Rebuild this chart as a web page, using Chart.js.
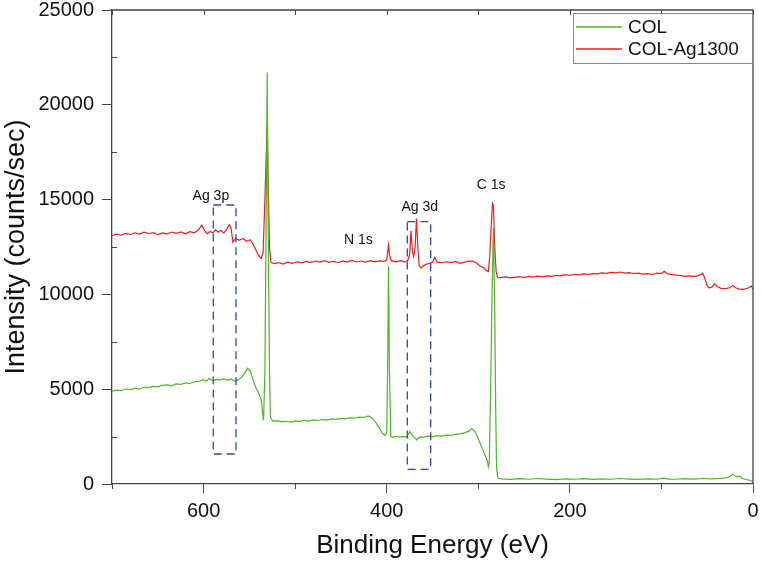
<!DOCTYPE html>
<html>
<head>
<meta charset="utf-8">
<script src="https://cdn.jsdelivr.net/npm/chart.js@4"></script>
<style>
  html, body { margin: 0; padding: 0; background: #fff; }
  #wrap { width: 762px; height: 561px; }
</style>
</head>
<body>
<div id="wrap"><canvas id="grafico" width="762" height="561"></canvas></div>
<script>
// Series names
const seriesNames = ['COL', 'COL-Ag1300'];

// COL spectrum (binding energy eV, counts/sec)
const colEnergy = [700,695,690,685,680,675,670,665,660,655,650,645,640,635,630,625,620,615,610,605,600,597,594,590,586,582,578,574,570,566,562,558,555,552,549,546,543,540,537,535.5,534.5,533,531.5,530.5,529.5,528,527,524,520,515,510,505,500,495,490,485,480,475,470,465,460,455,450,445,440,435,430,425,420,416,412,408,405,402,400,399,398,397,395.5,393,390,386,382,378,375,372,369,367,364,360,355,350,345,340,335,330,325,320,315,310,307,304,301,298,295,292,290,289,288,286.5,285,283.5,282,281,280,278.5,275,265,255,245,235,225,215,205,195,185,175,165,155,145,135,125,115,105,98,92,85,75,65,55,45,35,28,25,22,20,17,15,12,8,4,0];
const colCounts = [4900,4950,4920,5010,4980,5060,5000,5100,5080,5150,5120,5200,5230,5180,5280,5250,5330,5300,5380,5420,5500,5420,5560,5450,5520,5480,5560,5470,5540,5430,5500,5650,5850,6100,5950,5500,5100,4800,4450,3700,3350,6000,15000,21700,14000,6000,3500,3300,3340,3280,3310,3260,3330,3300,3360,3320,3380,3350,3400,3370,3430,3410,3460,3440,3500,3470,3530,3510,3590,3480,3250,2950,2700,2560,2700,6000,11500,6000,2500,2450,2520,2470,2510,2480,2760,2560,2420,2320,2480,2460,2520,2490,2550,2530,2580,2560,2620,2640,2700,2800,2920,2800,2500,2150,1800,1450,1200,900,1100,5000,10000,13500,9000,4000,800,300,270,240,280,250,290,260,230,270,250,280,240,270,250,290,260,240,270,250,310,260,250,280,260,290,270,300,340,420,520,430,370,420,300,240,200,120];

// COL-Ag1300 spectrum
const agEnergy = [700,695,690,685,680,675,670,665,660,655,650,645,640,635,630,625,620,615,610,606,602,599,596,593,590,587,584,581,578,575,572,570,568,565,561,557,553,549,546,543,540,537,535,533,531.5,530.5,529.5,528,526.5,523,518,513,508,503,498,493,488,483,478,473,468,463,458,453,448,443,438,433,428,423,418,413,408,403,400,399,398,397,395,390,385,380,377,375,373.5,372,370.5,369,367.5,366,364.5,362,358,354,350,347.5,345,340,335,330,325,320,315,310,306,302,298,294,291,289,287.5,286,284.5,283.5,282,280.5,279,275,270,265,260,255,250,245,240,235,230,225,220,215,210,205,200,195,190,185,180,175,170,165,160,155,150,145,140,135,130,125,120,115,110,105,100,97,94,90,85,80,75,70,65,60,57,55,53,50,48,45,42,39,35,31,27,24,22,19,15,11,7,4,2,0];
const agCounts = [13100,13180,13120,13220,13160,13250,13180,13280,13200,13260,13150,13240,13180,13290,13220,13300,13200,13310,13250,13380,13650,13380,13200,13320,13250,13420,13280,13380,13230,13420,13680,13500,12750,12950,12850,12950,12800,12880,12650,12350,12050,11900,12200,15000,17500,19100,16000,12500,11700,11620,11680,11600,11700,11640,11720,11660,11740,11680,11760,11700,11780,11690,11740,11670,11770,11700,11790,11710,11760,11700,11780,11720,11770,11740,11800,12200,12600,12100,11780,11720,11780,11700,11800,12100,13350,12300,12000,12500,14000,12500,11500,11400,11580,11620,11700,11950,11700,11660,11720,11680,11740,11640,11700,11750,11760,11650,11500,11400,11250,11200,12000,13500,14800,14700,12500,11200,10900,10880,10920,10870,10900,10940,10890,10950,10910,10960,10920,10980,10950,11010,10980,11040,11010,11060,11030,11080,11060,11100,11080,11130,11110,11160,11140,11180,11120,11150,11090,11120,11070,11100,11050,11120,11100,11220,11100,11060,11020,11000,10950,10980,10940,10990,11050,11120,10900,10450,10350,10380,10560,10420,10320,10300,10330,10420,10470,10350,10280,10260,10300,10380,10440,10270];

// Peak labels and highlight boxes (data coordinates)
const peakLabels = ['Ag 3p', 'N 1s', 'Ag 3d', 'C 1s'];
const peakLabelEnergy = [592, 431, 364, 286];
const peakLabelCounts = [15190, 12870, 14610, 15770];
const boxEnergy = [[589.4, 564.6], [377.5, 352]];
const boxCounts = [[1582, 14715], [775, 13834]];

const xMajorTicks = [0, 200, 400, 600];
const xMinorTicks = [100, 300, 500, 700];
const yMajorTicks = [0, 5000, 10000, 15000, 20000, 25000];
const yMinorTicks = [2500, 7500, 12500, 17500, 22500];

const colores = ['#4fb52a', '#ee1d1d'];
const ejeColor = '#444';
const fuente = '"Liberation Sans", Arial, sans-serif';

function puntos(xs, ys) {
    return xs.map((x, i) => ({ x: x, y: ys[i] }));
}

// Plugin para marco, ticks menores, cajas, etiquetas y leyenda
const extras = {
    id: 'extras',
    afterDatasetsDraw(chart) {
        const ctx = chart.ctx;
        const a = chart.chartArea;
        const xs = chart.scales.x;
        const ys = chart.scales.y;
        ctx.save();

        // marco superior y derecho
        ctx.strokeStyle = ejeColor;
        ctx.lineWidth = 1.3;
        ctx.beginPath();
        ctx.moveTo(a.left, a.top);
        ctx.lineTo(a.right, a.top);
        ctx.lineTo(a.right, a.bottom);
        ctx.stroke();

        // ticks menores
        ctx.lineWidth = 1;
        ctx.beginPath();
        xMinorTicks.forEach(v => {
            const px = Math.round(xs.getPixelForValue(v)) + 0.5;
            ctx.moveTo(px, a.bottom); ctx.lineTo(px, a.bottom + 5);
        });
        xMajorTicks.concat(xMinorTicks).forEach(v => {
            const px = Math.round(xs.getPixelForValue(v)) + 0.5;
            ctx.moveTo(px, a.top); ctx.lineTo(px, a.top + 5);
        });
        yMinorTicks.forEach(v => {
            const py = Math.round(ys.getPixelForValue(v)) + 0.5;
            ctx.moveTo(a.left, py); ctx.lineTo(a.left + 5, py);
        });
        ctx.stroke();

        // cajas punteadas
        ctx.strokeStyle = '#2c47b5';
        ctx.lineWidth = 1.3;
        ctx.setLineDash([8, 5]);
        boxEnergy.forEach((be, i) => {
            const x1 = xs.getPixelForValue(be[0]);
            const x2 = xs.getPixelForValue(be[1]);
            const y1 = ys.getPixelForValue(boxCounts[i][1]);
            const y2 = ys.getPixelForValue(boxCounts[i][0]);
            ctx.beginPath();
            ctx.moveTo(x1, y1);
            ctx.lineTo(x2, y1);
            ctx.lineTo(x2, y2);
            ctx.lineTo(x1, y2);
            ctx.closePath();
            ctx.stroke();
        });
        ctx.setLineDash([]);

        // etiquetas de picos
        ctx.fillStyle = '#111';
        ctx.font = '14px ' + fuente;
        ctx.textAlign = 'center';
        ctx.textBaseline = 'middle';
        peakLabels.forEach((t, i) => {
            ctx.fillText(t, xs.getPixelForValue(peakLabelEnergy[i]), ys.getPixelForValue(peakLabelCounts[i]));
        });

        // leyenda
        const lx = 573, ly = 13, lw = 179, lh = 50;
        ctx.fillStyle = '#fff';
        ctx.fillRect(lx, ly, lw, lh);
        ctx.strokeStyle = '#888';
        ctx.lineWidth = 1;
        ctx.strokeRect(lx + 0.5, ly + 0.5, lw, lh);
        ctx.font = '19px ' + fuente;
        ctx.textAlign = 'left';
        seriesNames.forEach((n, i) => {
            const yy = ly + 14 + i * 22;
            ctx.strokeStyle = colores[i];
            ctx.lineWidth = 1.3;
            ctx.beginPath();
            ctx.moveTo(lx + 3, yy);
            ctx.lineTo(lx + 49, yy);
            ctx.stroke();
            ctx.fillStyle = '#111';
            ctx.fillText(n, lx + 55, yy + 1);
        });
        ctx.restore();
    }
};

new Chart(document.getElementById('grafico').getContext('2d'), {
    type: 'line',
    data: {
        datasets: [
            { label: seriesNames[0], data: puntos(colEnergy, colCounts), borderColor: colores[0], borderWidth: 1.2, pointRadius: 0, tension: 0 },
            { label: seriesNames[1], data: puntos(agEnergy, agCounts), borderColor: colores[1], borderWidth: 1.2, pointRadius: 0, tension: 0 }
        ]
    },
    options: {
        responsive: false,
        animation: false,
        layout: { padding: { left: 0, right: 9, top: 10, bottom: 0 } },
        plugins: { legend: { display: false }, tooltip: { enabled: false } },
        scales: {
            x: {
                type: 'linear',
                reverse: true,
                min: 0,
                max: 700,
                afterBuildTicks: s => { s.ticks = xMajorTicks.map(v => ({ value: v })); },
                afterFit: s => { s.height = 77; s.paddingLeft = 0; s.paddingRight = 0; },
                border: { color: ejeColor, width: 1.3 },
                grid: { drawOnChartArea: false, drawTicks: true, tickLength: 9, color: ejeColor },
                ticks: { color: '#111', font: { family: fuente, size: 20, lineHeight: 1 }, padding: 8, maxRotation: 0, callback: v => String(v) },
                title: { display: true, text: 'Binding Energy (eV)', color: '#111', font: { family: fuente, size: 26 }, padding: { top: 6, bottom: 0 } }
            },
            y: {
                min: 0,
                max: 25000,
                afterBuildTicks: s => { s.ticks = yMajorTicks.map(v => ({ value: v })); },
                afterFit: s => { s.width = 112; s.paddingTop = 0; s.paddingBottom = 0; },
                border: { color: ejeColor, width: 1.3 },
                grid: { drawOnChartArea: false, drawTicks: true, tickLength: 10, color: ejeColor },
                ticks: { color: '#111', font: { family: fuente, size: 20, lineHeight: 1 }, padding: 8, callback: v => String(v) },
                title: { display: true, text: 'Intensity (counts/sec)', color: '#111', font: { family: fuente, size: 27 }, padding: { top: 0, bottom: 4 } }
            }
        }
    },
    plugins: [extras]
});
</script>
</body>
</html>
